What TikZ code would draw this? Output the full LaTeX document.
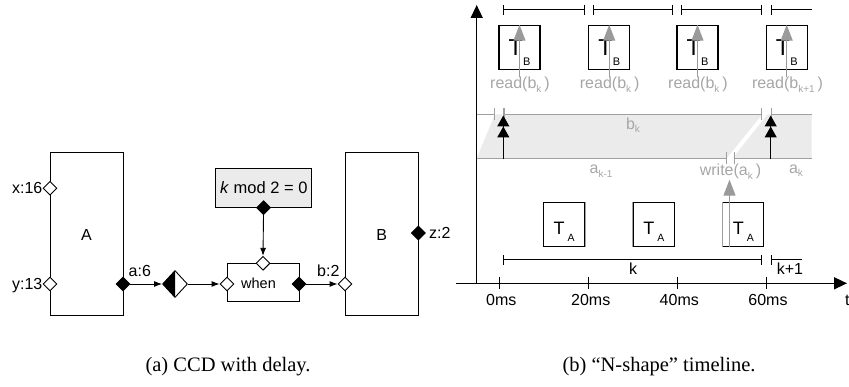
\documentclass[tikz,border=0pt]{standalone}
\usepackage{fontspec}
\setmainfont{Liberation Sans}
\newfontfamily\capfont{Liberation Serif}
\usetikzlibrary{arrows.meta,shapes.geometric}
\definecolor{bandfill}{HTML}{EBEBEB}
\definecolor{condfill}{HTML}{EBEBEB}
\definecolor{labgray}{HTML}{A6A6A6}
\definecolor{lingray}{HTML}{A0A0A0}
\definecolor{arrgray}{HTML}{9A9A9A}
\newcommand{\myfs}[1]{\fontsize{#1}{#1}\selectfont}
\begin{document}
\begin{tikzpicture}[x=1pt,y=-1pt,
  lab/.style={inner sep=0pt, font=\myfs{16}},
  glab/.style={inner sep=0pt, font=\myfs{16}, text=labgray},
  blk/.style={draw, line width=1pt, minimum width=73pt, minimum height=163pt, inner sep=0pt, font=\myfs{16}},
  wport/.style={diamond, draw, fill=white, line width=0.9pt, minimum width=14pt, minimum height=14pt, inner sep=0pt},
  bport/.style={wport, fill=black},
  conn/.style={line width=0.9pt, -{Latex[length=8pt,width=6pt]}},
  delay/.style={diamond, draw, fill=white, line width=0.9pt, minimum width=25pt, minimum height=27pt, inner sep=0pt,
     path picture={\fill[black] (path picture bounding box.west) -- (path picture bounding box.north) -- (path picture bounding box.south) -- cycle;}},
  whenbox/.style={draw, line width=1pt, minimum width=72pt, minimum height=38.4pt, inner sep=0pt},
  condbox/.style={draw, fill=condfill, line width=1pt, minimum width=95.7pt, minimum height=39.4pt, inner sep=0pt, font=\myfs{16.5}},
  tbox/.style={draw, line width=1.1pt, minimum width=41pt, minimum height=44.4pt, inner sep=0pt},
  axarr/.style={line width=1.5pt, -{Triangle[length=13pt,width=12pt]}},
  tick/.style={line width=1pt},
  brk/.style={line width=1pt, {Bar[width=10pt]}-{Bar[width=10pt]}},
  brks/.style={line width=1pt, {Bar[width=10pt]}-},
  gbrk/.style={line width=1.2pt, draw=lingray, {Bar[width=12pt]}-{Bar[width=12pt]}},
  gbrks/.style={line width=1.2pt, draw=lingray, {Bar[width=12pt]}-},
  gbrke/.style={line width=1.2pt, draw=lingray, -{Bar[width=12pt]}},
  garr/.style={line width=1.2pt, draw=arrgray, -{Triangle[length=16pt,width=12pt,fill=arrgray]}},
  dbl/.style={line width=1.2pt, -{Triangle[length=11pt,width=12pt,sep=0pt]Triangle[length=11pt,width=12pt,sep=0pt]}},
  tA/.style={tbox, label={[inner sep=0pt, anchor=base, yshift=-7.5pt]center:{\myfs{18}T\kern3pt\raisebox{-7pt}{\myfs{10.5}A}}}},
  tB/.style={tbox, label={[inner sep=0pt, anchor=base, yshift=-5.5pt]center:{\myfs{23}T\kern0.5pt\raisebox{-10pt}{\myfs{11}B}}}},
  captext/.style={inner sep=0pt, font=\capfont\myfs{20.5}}
]
\useasboundingbox (0,0) rectangle (849,387);

% ---------------- (a) CCD with delay ----------------
\node[blk] (A) at (86.5,234.5) {A};
\node[wport] (px) at (50,188.3) {};
\node[wport] (py) at (50,284) {};
\node[bport] (pa) at (123,284) {};
\node[lab, anchor=base east] (lx) at (42.5,194) {x:16};
\node[lab, anchor=base east] (ly) at (42.5,289.7) {y:13};
\node[lab, anchor=base west] (la) at (128.5,277) {a:6};

\node[delay] (dl) at (175,284) {};

\node[whenbox] (wh) at (263,282.5) {};
\node[lab, font=\myfs{14.5}, anchor=base] (lwh) at (258.5,289) {when};
\node[wport] (pwi) at (227,284) {};
\node[bport] (pwo) at (299,284) {};
\node[wport] (pwt) at (263,263.3) {};

\node[condbox] (cond) at (263.8,188) {\textit{k} mod 2 = 0};
\node[bport] (pc) at (263.5,207.7) {};

\node[blk] (B) at (381.7,234.5) {B};
\node[wport] (pbi) at (345,284) {};
\node[bport] (pz) at (418.3,233) {};
\node[lab, anchor=base west] (lb) at (317,277) {b:2};
\node[lab, anchor=base west] (lz) at (429,238.5) {z:2};

\draw[conn] (pa.east) -- (dl.west);
\draw[conn] (dl.east) -- (pwi.west);
\draw[conn] (pwo.east) -- (pbi.west);
\draw[conn] (pc.south) -- (pwt.north);

\node[captext, anchor=base] (capa) at (228,371) {(a) CCD with delay.};

% ---------------- (b) N-shape timeline ----------------
% band fill
\fill[bandfill] (476.7,158.3) -- (495,114.3) -- (762.3,114.3) -- (726.7,158.3) -- cycle;
\fill[bandfill] (732.5,158.3) -- (767.5,114.3) -- (811.7,114.3) -- (811.7,158.3) -- cycle;
% band lines
\draw[gbrke] (476.7,114.3) -- (495,114.3);
\draw[gbrk] (503.3,114.3) -- (762.3,114.3);
\draw[gbrks] (770.7,114.3) -- (811.7,114.3);
\draw[gbrke] (476.7,158.3) -- (726.7,158.3);
\draw[gbrks] (734,158.3) -- (811.7,158.3);

% axes
\coordinate (o) at (476.7,283.3);
\coordinate (ytop) at (476.7,5);
\coordinate (xl) at (456,283.3);
\coordinate (xr) at (847,283.3);
\draw[axarr] (o) -- (ytop);
\draw[axarr] (xl) -- (xr);
\node[lab, anchor=base west] (lt) at (845,306) {t};

% ticks and labels
\foreach \x/\t in {499.3/0ms, 588.7/20ms, 677.3/40ms, 766/60ms}{
  \draw[tick] (\x,277) -- (\x,289.5);
  \node[lab, anchor=base] at (\x+2,306) {\t};
}

% top brackets
\draw[brk] (503.3,10) -- (585,10);
\draw[brk] (592.7,10) -- (672.7,10);
\draw[brk] (680.7,10) -- (762.3,10);
\draw[brks] (770.7,10) -- (811.7,10);

% T_B boxes and reads
\node[tB] (tb1) at (519.5,47.5) {};
\node[tB] (tb2) at (609.2,47.5) {};
\node[tB] (tb3) at (697.5,47.5) {};
\node[tB] (tb4) at (786.7,47.5) {};
\node[glab, anchor=base] (r1) at (520,89) {read(b\raisebox{-3.5pt}{\myfs{10}k}\kern3pt)};
\node[glab, anchor=base] (r2) at (609.7,89) {read(b\raisebox{-3.5pt}{\myfs{10}k}\kern3pt)};
\node[glab, anchor=base] (r3) at (698,89) {read(b\raisebox{-3.5pt}{\myfs{10}k}\kern3pt)};
\node[glab, anchor=base] (r4) at (787.5,89) {read(b\raisebox{-3.5pt}{\myfs{10}k+1}\kern3pt)};
\draw[garr] (tb1.center |- r1.north) -- (tb1.north);
\draw[garr] (tb2.center |- r2.north) -- (tb2.north);
\draw[garr] (tb3.center |- r3.north) -- (tb3.north);
\draw[garr] (tb4.center |- r4.north) -- (tb4.north);

% black double arrows
\coordinate (d1b) at (503.3,159.5);
\coordinate (d1t) at (503.3,115.5);
\coordinate (d2b) at (770.7,159.5);
\coordinate (d2t) at (770.7,115.5);
\draw[dbl] (d1b) -- (d1t);
\draw[dbl] (d2b) -- (d2t);

% band labels
\node[glab, anchor=base] (lbk) at (633,130) {b\raisebox{-3pt}{\myfs{10}k}};
\node[glab, anchor=base] (lak1) at (601,174) {a\raisebox{-4pt}{\myfs{10}k-1}};
\node[glab, anchor=base] (lw) at (730.5,176) {write(a\raisebox{-3.5pt}{\myfs{10}k}\kern3pt)};
\node[glab, anchor=base] (lak) at (796,174) {a\raisebox{-3pt}{\myfs{10}k}};

% T_A boxes
\node[tA] (ta1) at (564.2,224.5) {};
\node[tA] (ta2) at (653.8,224.5) {};
\node[tA] (ta3) at (743.3,224.5) {};
\draw[line width=1.1pt, draw=lingray] (ta1.north east) -- (ta1.south east);
\draw[line width=1.1pt, draw=lingray] (ta2.north west) -- (ta2.south west);
\draw[line width=1.1pt, draw=lingray] (ta3.north west) -- (ta3.south west);
\coordinate (wb) at (729.5,246.7);
\draw[garr] (wb) -- (wb |- lw.south);

% k brackets
\draw[brk] (503.3,260) -- (762.3,260);
\draw[brks] (770.7,260) -- (801.7,260);
\node[lab, anchor=base] (lk) at (633,275) {k};
\node[lab, anchor=base] (lk1) at (790,275) {k+1};

\node[captext, anchor=base] (capb) at (659,371) {(b) “N-shape” timeline.};
\end{tikzpicture}
\end{document}
